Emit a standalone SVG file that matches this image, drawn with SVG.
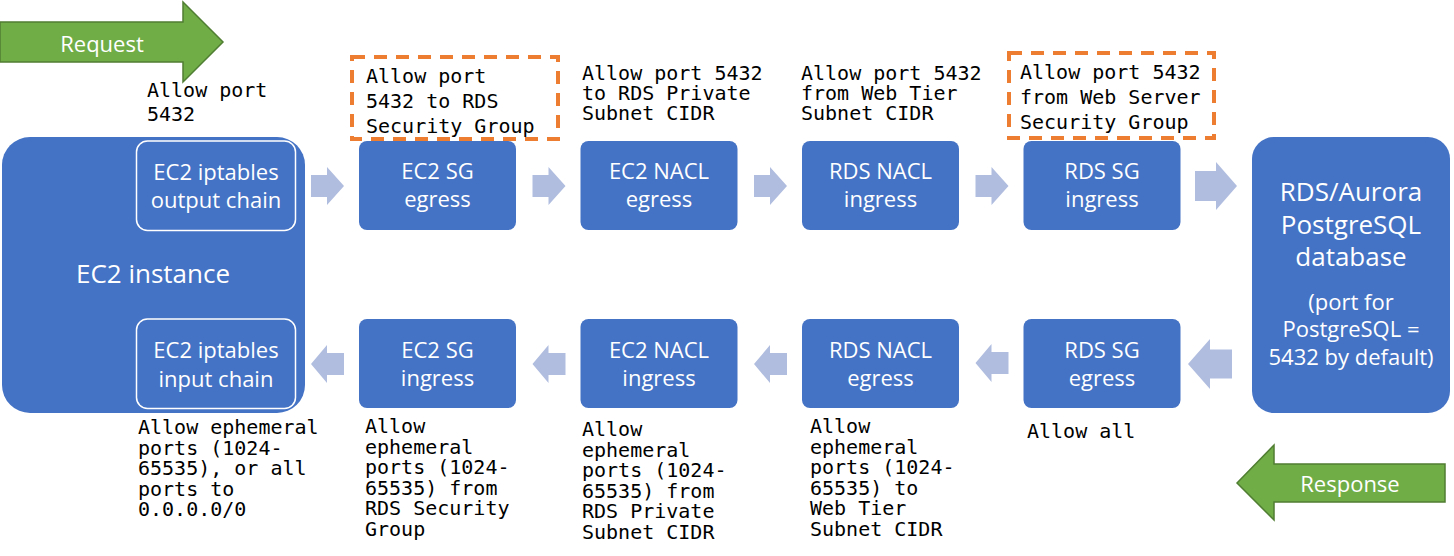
<svg xmlns="http://www.w3.org/2000/svg" width="1454" height="556" viewBox="0 0 1454 556">
<defs>
<style>
.box{fill:#4472C4;}
.inner{fill:#4472C4;stroke:#FFFFFF;stroke-width:1.5;}
.lbl{font-family:"Open Sans","Noto Sans","DejaVu Sans",sans-serif;font-size:22px;fill:#FFFFFF;text-anchor:middle;}
.big{font-size:26px;}
.mono{font-family:"DejaVu Sans Mono","Liberation Mono",monospace;font-size:20px;fill:#000000;}
.dash{fill:none;stroke:#ED7D31;stroke-width:4;stroke-dasharray:13 9;}
.flow{fill:#B0BDDF;}
.green{fill:#70AD47;stroke:#507E32;stroke-width:1.5;}
</style>
<path id="ar" d="M0,-11 H16 V-19 L33,0 L16,19 V11 H0 Z"/>
<path id="al" d="M0,0 L16,-19 V-11 H33 V11 H16 V19 Z"/>
</defs>

<g id="request">
<path class="green" d="M0,22 H183 V2 L223,42 L183,82 V62 H0 Z"/>
<text class="lbl" x="102" y="52">Request</text>
</g>

<g id="response">
<path class="green" d="M1237,483 L1274,445 V464 H1445 V502 H1274 V520 Z"/>
<text class="lbl" x="1350" y="492">Response</text>
</g>

<g id="ec2-instance">
<rect class="box" x="2" y="137" width="303" height="276" rx="28"/>
<text class="lbl big" x="153" y="283">EC2 instance</text>
</g>

<g id="ec2-output-chain">
<rect class="inner" x="136.5" y="141" width="159" height="89.5" rx="11"/>
<text class="lbl" x="216" y="180">EC2 iptables</text>
<text class="lbl" x="216" y="208">output chain</text>
</g>

<g id="ec2-input-chain">
<rect class="inner" x="136.5" y="319" width="159" height="89.5" rx="11"/>
<text class="lbl" x="216" y="358">EC2 iptables</text>
<text class="lbl" x="216" y="387">input chain</text>
</g>

<g id="ec2-sg-egress">
<rect class="box" x="359" y="141" width="157" height="89" rx="8"/>
<text class="lbl" x="437.5" y="179">EC2 SG</text>
<text class="lbl" x="437.5" y="207">egress</text>
</g>
<g id="ec2-nacl-egress">
<rect class="box" x="580.5" y="141" width="157" height="89" rx="8"/>
<text class="lbl" x="659" y="179">EC2 NACL</text>
<text class="lbl" x="659" y="207">egress</text>
</g>
<g id="rds-nacl-ingress">
<rect class="box" x="802" y="141" width="157" height="89" rx="8"/>
<text class="lbl" x="880.5" y="179">RDS NACL</text>
<text class="lbl" x="880.5" y="207">ingress</text>
</g>
<g id="rds-sg-ingress">
<rect class="box" x="1023.5" y="141" width="157" height="89" rx="8"/>
<text class="lbl" x="1102" y="179">RDS SG</text>
<text class="lbl" x="1102" y="207">ingress</text>
</g>

<g id="ec2-sg-ingress">
<rect class="box" x="359" y="319" width="157" height="89" rx="8"/>
<text class="lbl" x="437.5" y="358">EC2 SG</text>
<text class="lbl" x="437.5" y="386">ingress</text>
</g>
<g id="ec2-nacl-ingress">
<rect class="box" x="580.5" y="319" width="157" height="89" rx="8"/>
<text class="lbl" x="659" y="358">EC2 NACL</text>
<text class="lbl" x="659" y="386">ingress</text>
</g>
<g id="rds-nacl-egress">
<rect class="box" x="802" y="319" width="157" height="89" rx="8"/>
<text class="lbl" x="880.5" y="358">RDS NACL</text>
<text class="lbl" x="880.5" y="386">egress</text>
</g>
<g id="rds-sg-egress">
<rect class="box" x="1023.5" y="319" width="157" height="89" rx="8"/>
<text class="lbl" x="1102" y="358">RDS SG</text>
<text class="lbl" x="1102" y="386">egress</text>
</g>

<g id="rds-database">
<rect class="box" x="1252" y="137" width="198" height="276" rx="22"/>
<text class="lbl big" x="1351" y="201">RDS/Aurora</text>
<text class="lbl big" x="1351" y="234">PostgreSQL</text>
<text class="lbl big" x="1351" y="266">database</text>
<text class="lbl" x="1351" y="310">(port for</text>
<text class="lbl" x="1351" y="337">PostgreSQL =</text>
<text class="lbl" x="1351" y="365">5432 by default)</text>
</g>

<g id="connectors">
<use href="#ar" class="flow" x="311" y="186"/>
<use href="#ar" class="flow" x="532.5" y="186"/>
<use href="#ar" class="flow" x="754" y="186"/>
<use href="#ar" class="flow" x="975.5" y="186"/>
<path class="flow" d="M1195,171 H1216 V162 L1237,186 L1216,210 V201 H1195 Z"/>
<use href="#al" class="flow" x="311" y="364"/>
<use href="#al" class="flow" x="532.5" y="364"/>
<use href="#al" class="flow" x="754" y="364"/>
<use href="#al" class="flow" x="975.5" y="363"/>
<path class="flow" d="M1188,364 L1210,339 V349.5 H1232 V378.5 H1210 V389 Z"/>
</g>

<g id="notes">
<text class="mono" x="147" y="97">Allow port</text>
<text class="mono" x="147" y="121">5432</text>

<rect class="dash" x="352" y="57" width="206" height="82"/>
<text class="mono" x="366" y="83">Allow port</text>
<text class="mono" x="366" y="108">5432 to RDS</text>
<text class="mono" x="366" y="133">Security Group</text>

<text class="mono" x="582" y="80">Allow port 5432</text>
<text class="mono" x="582" y="100">to RDS Private</text>
<text class="mono" x="582" y="120">Subnet CIDR</text>

<text class="mono" x="801" y="80">Allow port 5432</text>
<text class="mono" x="801" y="100">from Web Tier</text>
<text class="mono" x="801" y="120">Subnet CIDR</text>

<rect class="dash" x="1009" y="53" width="205" height="85"/>
<text class="mono" x="1020" y="79">Allow port 5432</text>
<text class="mono" x="1020" y="104">from Web Server</text>
<text class="mono" x="1020" y="129">Security Group</text>

<text class="mono" x="138" y="434">Allow ephemeral</text>
<text class="mono" x="138" y="454.5">ports (1024-</text>
<text class="mono" x="138" y="475">65535), or all</text>
<text class="mono" x="138" y="495.5">ports to</text>
<text class="mono" x="138" y="516">0.0.0.0/0</text>

<text class="mono" x="365" y="433">Allow</text>
<text class="mono" x="365" y="453.5">ephemeral</text>
<text class="mono" x="365" y="474">ports (1024-</text>
<text class="mono" x="365" y="494.5">65535) from</text>
<text class="mono" x="365" y="515">RDS Security</text>
<text class="mono" x="365" y="535.5">Group</text>

<text class="mono" x="582" y="436">Allow</text>
<text class="mono" x="582" y="456.5">ephemeral</text>
<text class="mono" x="582" y="477">ports (1024-</text>
<text class="mono" x="582" y="497.5">65535) from</text>
<text class="mono" x="582" y="518">RDS Private</text>
<text class="mono" x="582" y="538.5">Subnet CIDR</text>

<text class="mono" x="810" y="433">Allow</text>
<text class="mono" x="810" y="453.5">ephemeral</text>
<text class="mono" x="810" y="474">ports (1024-</text>
<text class="mono" x="810" y="494.5">65535) to</text>
<text class="mono" x="810" y="515">Web Tier</text>
<text class="mono" x="810" y="535.5">Subnet CIDR</text>

<text class="mono" x="1027" y="438">Allow all</text>
</g>
</svg>
